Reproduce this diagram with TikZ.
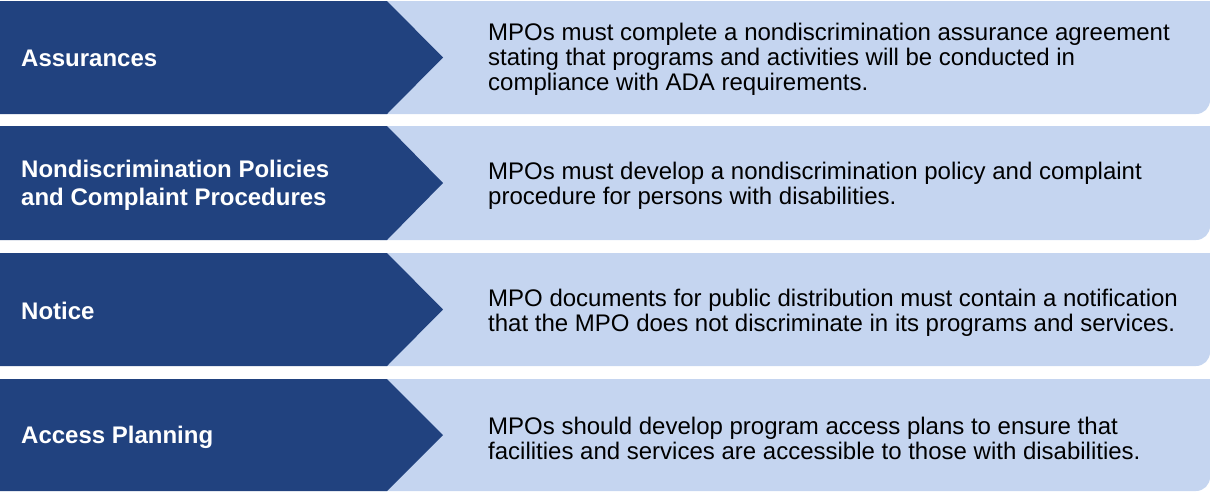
\documentclass[tikz,border=0pt]{standalone}
\usepackage{fontspec}
\setmainfont{Liberation Sans}
\definecolor{darkblue}{HTML}{21427F}
\definecolor{lightblue}{HTML}{C5D5F0}
\begin{document}
\begin{tikzpicture}[x=1pt,y=-1pt,
  lbl/.style={anchor=west,align=left,text=white,font=\fontsize{24}{28}\selectfont\bfseries,inner sep=0pt},
  body/.style={anchor=west,align=left,text=black,font=\fontsize{24}{25}\selectfont,inner sep=0pt}]
\useasboundingbox (0,0) rectangle (1210,491);
\foreach \t/\b in {1/114,126/240,253/366,379/491}{
  \pgfmathsetmacro{\m}{(\t+\b)/2}
  \fill[lightblue] (380,\t) -- (1210,\t) [rounded corners=14pt] -- (1210,\b) [sharp corners] -- (380,\b) -- cycle;
  \fill[darkblue] (0,\t) -- (387,\t) -- (443,\m) -- (387,\b) -- (0,\b) -- cycle;
}
\node[lbl] (l1) at (21,58.5) {Assurances};
\node[lbl] (l2) at (21,185) {Nondiscrimination Policies\\and Complaint Procedures};
\node[lbl] (l3) at (21,311) {Notice};
\node[lbl] (l4) at (21,437) {Access Planning};
\node[body] (b1) at (488,59.5) {MPOs must complete a nondiscrimination assurance agreement\\stating that programs and activities will be conducted in\\compliance with ADA requirements.};
\node[body] (b2) at (488,186) {MPOs must develop a nondiscrimination policy and complaint\\procedure for persons with disabilities.};
\node[body] (b3) at (488,313) {MPO documents for public distribution must contain a notification\\that the MPO does not discriminate in its programs and services.};
\node[body] (b4) at (488,438.5) {MPOs should develop program access plans to ensure that\\facilities and services are accessible to those with disabilities.};
\end{tikzpicture}
\end{document}
